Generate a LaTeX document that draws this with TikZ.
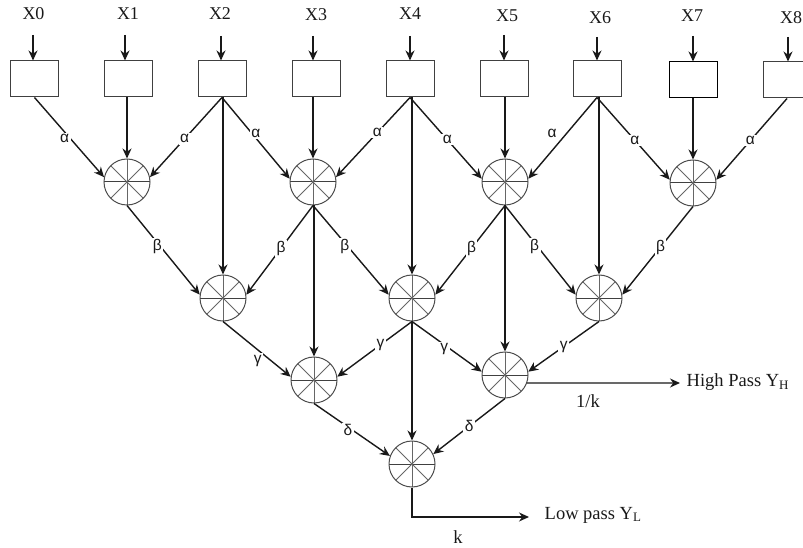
\documentclass[tikz,border=0pt]{standalone}
\usepackage{fontspec}
\setmainfont{Liberation Serif}
\newfontfamily\greekfont{Liberation Sans}
\usetikzlibrary{arrows.meta}
\tikzset{
    inlabel/.style={font=\fontsize{18}{20}\selectfont, inner sep=0pt},
    outlabel/.style={font=\fontsize{18.5}{20}\selectfont, inner sep=0pt},
    coef/.style={font=\greekfont\fontsize{15.5}{17}\selectfont, fill=white, inner sep=1.5pt},
    regbox/.style={draw=black!75, line width=1pt, minimum width=48pt, minimum height=36pt, inner sep=0pt},
    adder/.style={circle, draw=black!70, line width=1pt, minimum size=46pt, inner sep=0pt, path picture={
        \draw[-, black!60, line width=.9pt] (path picture bounding box.north) -- (path picture bounding box.south);
        \draw[-, black!75, line width=1pt] (path picture bounding box.west) -- (path picture bounding box.east);
        \draw[-, black!60, line width=.8pt] (path picture bounding box.center) ++(45:23pt) -- ++(225:46pt);
        \draw[-, black!60, line width=.8pt] (path picture bounding box.center) ++(135:23pt) -- ++(315:46pt);
    }}
}

\begin{document}
\begin{tikzpicture}[x=1pt, y=-1pt, ->, >={Stealth[length=10pt,width=9pt]}, line width=1.4pt, black!90]
    \clip (0,0) rectangle (803,548);
    % inputs
    \node[inlabel] (X0) at (33.5,14) {X0};
    \node[inlabel] (X1) at (128,14) {X1};
    \node[inlabel] (X2) at (220,14) {X2};
    \node[inlabel] (X3) at (316,15) {X3};
    \node[inlabel] (X4) at (410,14) {X4};
    \node[inlabel] (X5) at (507,16) {X5};
    \node[inlabel] (X6) at (600,18) {X6};
    \node[inlabel] (X7) at (692,16) {X7};
    \node[inlabel] (X8) at (791,18) {X8};
    \node[regbox] (X0box) at (34.5,79) {};
    \node[regbox] (X1box) at (128,79) {};
    \node[regbox] (X2box) at (222,79) {};
    \node[regbox] (X3box) at (316,79) {};
    \node[regbox] (X4box) at (410,79) {};
    \node[regbox] (X5box) at (504,79) {};
    \node[regbox] (X6box) at (597,79) {};
    \node[regbox, draw=black] (X7box) at (693.5,80) {};
    \node[regbox] (X8box) at (787,80) {};
    \coordinate (X0in) at (33,35);
    \coordinate (X1in) at (125,35);
    \coordinate (X2in) at (221,36);
    \coordinate (X3in) at (313,36);
    \coordinate (X4in) at (410,36);
    \coordinate (X5in) at (504,35);
    \coordinate (X6in) at (597,37);
    \coordinate (X7in) at (693,36);
    \coordinate (X8in) at (788,37);
    \draw (X0in) -- (X0in |- X0box.north);
    \draw (X1in) -- (X1in |- X1box.north);
    \draw (X2in) -- (X2in |- X2box.north);
    \draw (X3in) -- (X3in |- X3box.north);
    \draw (X4in) -- (X4in |- X4box.north);
    \draw (X5in) -- (X5in |- X5box.north);
    \draw (X6in) -- (X6in |- X6box.north);
    \draw (X7in) -- (X7in |- X7box.north);
    \draw (X8in) -- (X8in |- X8box.north);
    % adders
    \node[adder] (A1) at (127,182) {};
    \node[adder] (A2) at (313,182) {};
    \node[adder] (A3) at (505,182) {};
    \node[adder] (A4) at (693,183) {};
    \node[adder] (B1) at (223,298) {};
    \node[adder] (B2) at (412,298) {};
    \node[adder] (B3) at (599,298) {};
    \node[adder] (C1) at (314,380) {};
    \node[adder] (C2) at (505,375) {};
    \node[adder] (D) at (412,464) {};
    % first level
    \draw (X0box.south) -- (A1.168) node[pos=.52, coef, xshift=-6] {α};
    \draw (A1 |- X1box.south) -- (A1.north);
    \draw (X2box.south) -- (A1.12) node[pos=.52, coef] {α};
    \draw (X2box.south) -- (A2.172) node[pos=.44, coef, xshift=4] {α};
    \draw (A2 |- X3box.south) -- (A2.north);
    \draw (X4box.south) -- (A2.12) node[pos=.44, coef] {α};
    \draw (X4box.south) -- (A3.172) node[pos=.52, coef] {α};
    \draw (A3 |- X5box.south) -- (A3.north);
    \draw (X6box.south) -- (A3.8) node[pos=.44, left, xshift=-8, font=\greekfont\fontsize{15.5}{17}\selectfont, inner sep=1.5pt] {α};
    \draw (X6box.south) -- (A4.172) node[pos=.52, coef] {α};
    \draw (A4 |- X7box.south) -- (A4.north);
    \draw (X8box.south) -- (A4.8) node[pos=.52, coef] {α};
    % second level
    \draw (A1.south) -- (B1.172) node[pos=.46, coef, xshift=-3] {β};
    \draw (B1 |- X2box.south) -- (B1.north);
    \draw (A2.south) -- (B1.8) node[pos=.48, coef] {β};
    \draw (C1 |- A2.south) -- (C1.north);
    \draw (A2.south) -- (B2.172) node[pos=.46, coef, xshift=-3] {β};
    \draw (B2 |- X4box.south) -- (B2.north);
    \draw (A3.south) -- (B2.8) node[pos=.48, coef] {β};
    \draw (A3.south) -- (C2.north);
    \draw (A3.south) -- (B3.172) node[pos=.46, coef, xshift=-3] {β};
    \draw (B3 |- X6box.south) -- (B3.north);
    \draw (A4.south) -- (B3.8) node[pos=.46, coef] {β};
    % third level
    \draw (B1.south) -- (C1.172) node[pos=.6, coef, xshift=-6, yshift=-6] {γ};
    \draw (B2.south) -- (C1.8) node[pos=.42, coef] {γ};
    \draw (B2.south) -- (D.north);
    \draw (B2.south) -- (C2.172) node[pos=.55, coef, xshift=-6] {γ};
    \draw (B3.south) -- (C2.8) node[pos=.5, coef] {γ};
    \draw (C1.south) -- (D.160) node[pos=.5, coef, xshift=-4] {δ};
    \draw (C2.south) -- (D.25) node[pos=.5, coef] {δ};
    % outputs
    \coordinate (Hout) at (C2.-20);
    \coordinate (Hend) at (680,383);
    \node[outlabel, anchor=west] (HP) at (686,382) {High Pass Y\textsubscript{H}};
    \node[outlabel] (HPk) at (588,401) {1/k};
    \draw (Hout) -- (Hend);
    \node[outlabel, anchor=west] (LP) at (544,515) {Low pass Y\textsubscript{L}};
    \node[outlabel] (LPk) at (458,537) {k};
    \coordinate (Lturn) at (412,517);
    \draw (D.south) -- (Lturn) -- ++(117,0);
\end{tikzpicture}
\end{document}
